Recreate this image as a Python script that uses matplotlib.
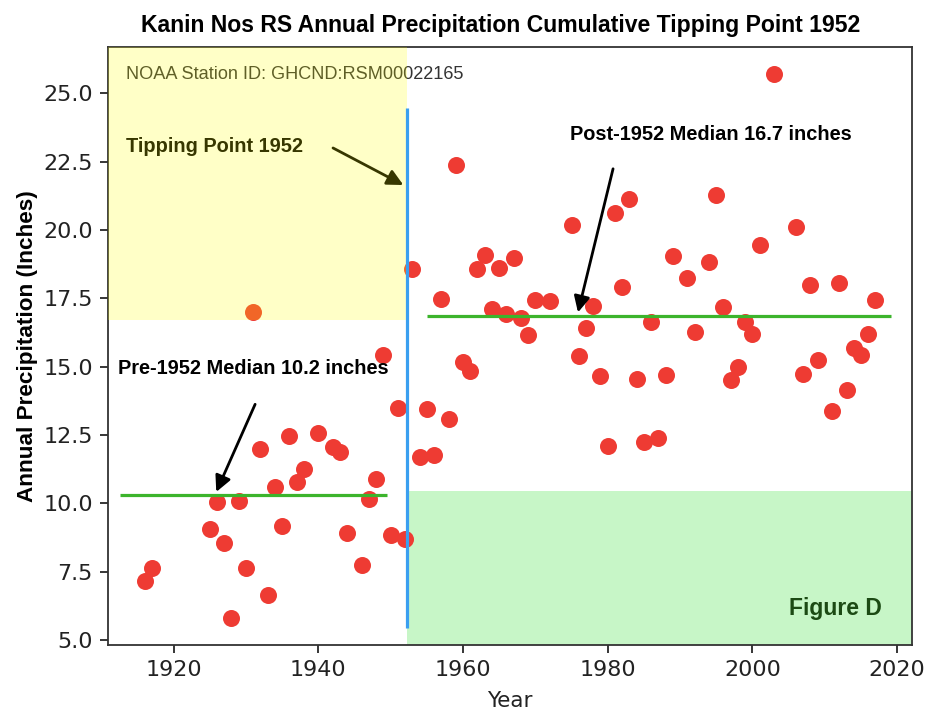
import matplotlib.pyplot as plt

# annual precipitation (inches)
years = [1916, 1917, 1925, 1926, 1927, 1928, 1929, 1930, 1931, 1932, 1933, 1934,
         1935, 1936, 1937, 1938, 1940, 1942, 1943, 1944, 1946, 1947, 1948, 1949,
         1950, 1951, 1952, 1953, 1954, 1955, 1956, 1957, 1958, 1959, 1960, 1961,
         1962, 1963, 1964, 1965, 1966, 1967, 1968, 1969, 1970, 1972, 1975, 1976,
         1977, 1978, 1979, 1980, 1981, 1982, 1983, 1984, 1985, 1986, 1987, 1988,
         1989, 1991, 1992, 1994, 1995, 1996, 1997, 1998, 1999, 2000, 2001, 2003,
         2006, 2007, 2008, 2009, 2011, 2012, 2013, 2014, 2015, 2016, 2017]
precip = [7.17, 7.64, 9.05, 10.07, 8.57, 5.82, 10.10, 7.65, 16.99, 12.00, 6.64, 10.62,
          9.17, 12.47, 10.77, 11.27, 12.57, 12.06, 11.90, 8.92, 7.74, 10.16, 10.88, 15.43,
          8.86, 13.48, 8.71, 18.57, 11.69, 13.46, 11.78, 17.47, 13.09, 22.39, 15.16, 14.83,
          18.59, 19.08, 17.13, 18.61, 16.92, 18.99, 16.80, 16.16, 17.45, 17.40, 20.18, 15.38,
          16.42, 17.24, 14.67, 12.12, 20.64, 17.90, 21.15, 14.55, 12.26, 16.64, 12.40, 14.71,
          19.05, 18.26, 16.28, 18.83, 21.29, 17.20, 14.53, 14.98, 16.62, 16.19, 19.45, 25.69,
          20.12, 14.73, 17.98, 15.24, 13.39, 18.05, 14.15, 15.68, 15.44, 16.19, 17.43]

tipping_year = 1952.2
pre_median = 10.3
post_median = 16.85
pre_span = (1912.6, 1949.5)
post_span = (1955.0, 2019.2)
tip_line = (5.45, 24.47)
yellow_bottom = 16.72
green_top = 10.44

fig = plt.figure(figsize=(9.29, 7.15), dpi=100)
ax = fig.add_axes([0.1163, 0.098, 0.8654, 0.8358])

ax.scatter(years, precip, s=150, color='#ee3b33', zorder=2, linewidths=0)
x0, x1 = ax.get_xlim()
y0, y1 = ax.get_ylim()
ax.set_xlim(x0, x1)
ax.set_ylim(y0, y1)
frac = (tipping_year - x0) / (x1 - x0)

# shaded regions
ax.axhspan(y0, green_top, xmin=frac, xmax=1, color='lightgreen', alpha=0.5, lw=0, zorder=0.5)
ax.axhspan(yellow_bottom, y1, xmin=0, xmax=frac, color='yellow', alpha=0.22, lw=0, zorder=6)

# medians and tipping point line
ax.hlines(pre_median, *pre_span, color='#3cb42c', lw=2.3, zorder=3)
ax.hlines(post_median, *post_span, color='#3cb42c', lw=2.3, zorder=3)
ax.vlines(tipping_year, *tip_line, color='#3a9ff0', lw=2.3, zorder=7)

bold = dict(family='Liberation Sans', fontweight='bold', fontsize=14.4)
arrow = dict(arrowstyle='-|>', mutation_scale=24, lw=2, color='black')
ax.text(1913.4, 23.07, 'Tipping Point 1952', ha='left', va='center', color='black', zorder=5, **bold)
ax.annotate('', xy=(1952.1, 21.6), xytext=(1941.7, 23.05), arrowprops=arrow, zorder=5)
ax.text(1974.8, 23.49, 'Post-1952 Median 16.7 inches', ha='left', va='center', zorder=8, **bold)
ax.annotate('', xy=(1975.8, 16.89), xytext=(1980.83, 22.34), arrowprops=arrow, zorder=8)
ax.text(1912.35, 14.94, 'Pre-1952 Median 10.2 inches', ha='left', va='center', zorder=8, **bold)
ax.annotate('', xy=(1925.75, 10.33), xytext=(1931.43, 13.72), arrowprops=arrow, zorder=8)
ax.text(2017.85, 6.16, 'Figure D', family='Liberation Sans', fontweight='bold', fontsize=16.5,
        ha='right', va='center', color='#1c4a14', zorder=8)
ax.text(1913.4, 25.7, 'NOAA Station ID: GHCND:RSM00022165', ha='left', va='center',
        family='Liberation Sans', fontsize=13.1, color='#333333', zorder=5)

ax.set_title('Kanin Nos RS Annual Precipitation Cumulative Tipping Point 1952',
             family='Liberation Sans', fontweight='bold', fontsize=16.6, pad=11, x=0.488)
ax.set_xlabel('Year', fontsize=15.5, color='#222222', labelpad=8)
ax.set_ylabel('Annual Precipitation (Inches)', family='Liberation Sans',
              fontweight='bold', fontsize=16.2, labelpad=4)
ax.tick_params(labelsize=16, labelcolor='#222222', length=6, width=1.1, pad=5)
for sp in ax.spines.values():
    sp.set_linewidth(1.3)
    sp.set_color('#333333')

fig.savefig('out.png', dpi=100)
